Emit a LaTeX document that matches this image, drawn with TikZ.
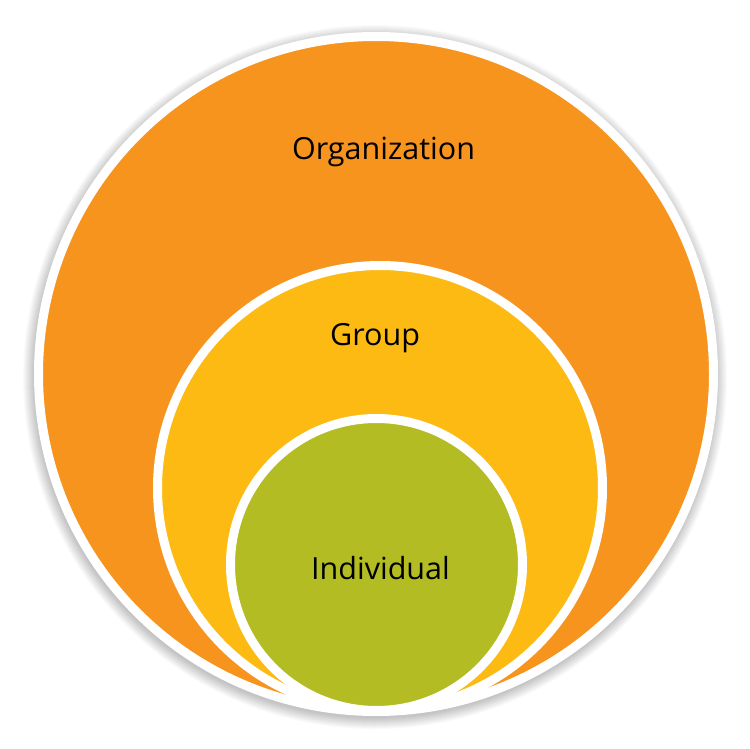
\documentclass[tikz,border=0pt]{standalone}
\usepackage{fontspec}
\setmainfont{Open Sans}
\definecolor{orgorange}{HTML}{F7941E}
\definecolor{grpyellow}{HTML}{FDBA13}
\definecolor{indgreen}{HTML}{B3BC22}

\begin{document}
\begin{tikzpicture}[x=1pt,y=-1pt,
    ring/.style={circle,draw=white,line width=9pt,inner sep=0pt},
    caption/.style={anchor=base,inner sep=0pt,text=black,font=\fontsize{30.5}{35}\selectfont}]
        \useasboundingbox (0,0) rectangle (750,749);
        \fill[white] (0,0) rectangle (750,749);
        % soft shadow round the outer ring
        \foreach \r in {1,...,12}
            \fill[black,opacity=0.018] (375,377) circle ({340pt+\r pt});
        \node[ring,fill=orgorange,minimum size=675pt] (org) at (376,374) {};
        \node[ring,fill=grpyellow,minimum size=445pt] (grp) at (380,488) {};
        \node[ring,fill=indgreen,minimum size=292pt] (ind) at (376.5,564.5) {};
        \node[caption] (orglabel) at (383.5,160) {Organization};
        \node[caption] (grplabel) at (375,345.5) {Group};
        \node[caption] (indlabel) at (380.5,579) {Individual};
        \end{tikzpicture}
\end{document}
